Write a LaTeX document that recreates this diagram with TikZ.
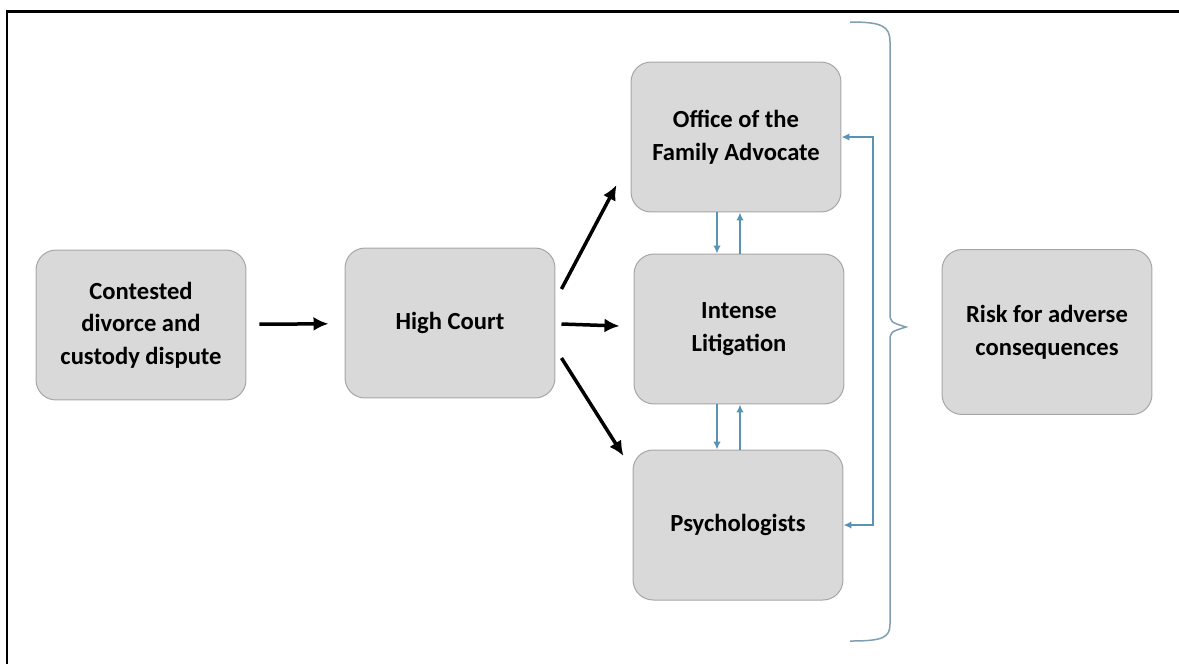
\documentclass[tikz,border=0pt]{standalone}
\usepackage{fontspec}
\setmainfont{Carlito}
\usetikzlibrary{arrows.meta}
\definecolor{boxfill}{HTML}{D9D9D9}
\definecolor{boxline}{HTML}{A6A6A6}
\definecolor{linkblue}{HTML}{5B93B5}
\definecolor{bracegray}{HTML}{7F9FB0}

\begin{document}
\begin{tikzpicture}[x=0.02cm, y=-0.02cm]
	\tikzstyle{stage} = [rectangle, rounded corners = 4mm, minimum width = 4.2cm, minimum height = 3cm, line width = 0.2mm, draw=boxline, fill=boxfill, align=center, font=\fontsize{14}{18.6}\selectfont\bfseries]
	\tikzstyle{push} = [-{Latex[length=3mm, width=2.8mm]}, line width = 0.7mm]
	\tikzstyle{link} = [-{Latex[length=1.6mm, width=1.5mm]}, line width = 0.3mm, draw=linkblue]
	\useasboundingbox (0,0) rectangle (1179,664);
	\draw[line width = 0.6mm] (7,664) -- (7,11) -- (1179,11);
	
	\node[stage] at (141,325) (contested) {Contested\\divorce and\\custody dispute};
	\node[stage] at (450,323) (court) {High Court};
	\node[stage] at (736,137) (office) {Office of the\\Family Advocate};
	\node[stage] at (739,329) (litigation) {Intense\\Litigation};
	\node[stage] at (738,525) (psych) {Psychologists};
	\node[stage, minimum height = 3.3cm] at (1047,332) (risk) {Risk for adverse\\consequences};
	
	\coordinate (dn) at (717,0);
	\coordinate (up) at (740,0);
	\coordinate (loop) at (873,0);
	
	\draw[push, shorten <= 0.26cm, shorten >= 0.32cm] (contested) -- (court);
	\draw[push] ([shift={(6,-34)}]court.east) -- ([shift={(-14,48)}]office.west);
	\draw[push] ([shift={(6,1)}]court.east) -- ([shift={(-14,-3)}]litigation.west);
	\draw[push] ([shift={(6,35)}]court.east) -- ([shift={(-9,-69)}]psych.west);
	
	\draw[link] (office.south -| dn) -- (litigation.north -| dn);
	\draw[link] (litigation.north -| up) -- (office.south -| up);
	\draw[link] (litigation.south -| dn) -- (psych.north -| dn);
	\draw[link] (psych.north -| up) -- (litigation.south -| up);
	\draw[link, {Latex[length=1.6mm, width=1.5mm]}-{Latex[length=1.6mm, width=1.5mm]}] (office.east) -- (office.east -| loop) -- (psych.east -| loop) -- (psych.east);
	
	\draw[bracegray, line width = 0.3mm] (850,22) .. controls (882,22) and (890,26) .. (890,42) -- (890,312) .. controls (890,322) .. (906,327) .. controls (890,332) .. (890,342) -- (890,624) .. controls (890,638) and (882,641) .. (850,641);
\end{tikzpicture}
\end{document}
